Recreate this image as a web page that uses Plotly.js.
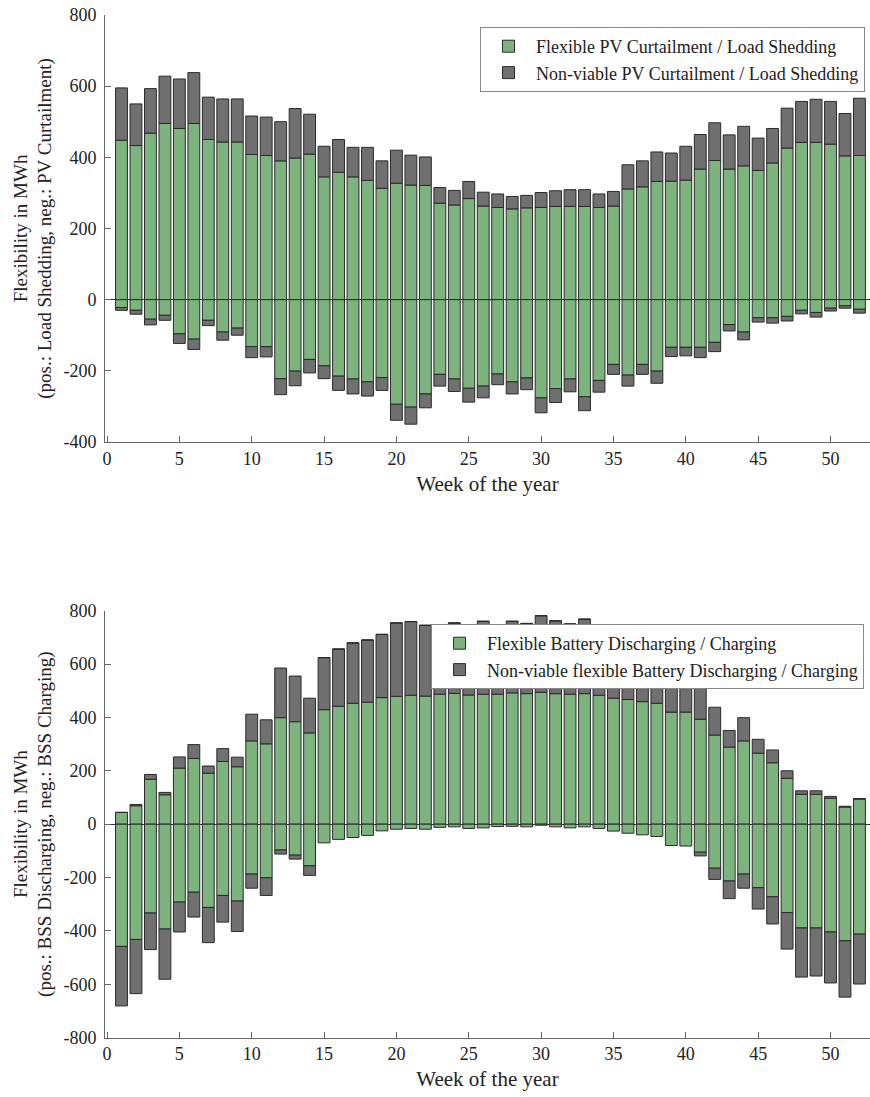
<!DOCTYPE html>
<html>
<head>
<meta charset="utf-8">
<script src="https://cdn.plot.ly/plotly-3.0.1.min.js"></script>
<style>html,body{margin:0;padding:0;background:#fff;}#chart{width:870px;height:1097px;}</style>
</head>
<body>
<div id="chart"></div>
<script>
const weeks = [1,2,3,4,5,6,7,8,9,10,11,12,13,14,15,16,17,18,19,20,21,22,23,24,25,26,27,28,29,30,31,32,33,34,35,36,37,38,39,40,41,42,43,44,45,46,47,48,49,50,51,52];

// Top chart: PV curtailment / load shedding (MWh)
const pvFlexPos = [448,433,468,495,481,495,450,443,443,408,405,390,398,409,345,358,345,335,313,327,322,321,271,266,284,263,259,255,258,259,262,262,262,259,263,311,317,332,333,336,367,391,367,376,363,384,426,442,442,437,404,405];
const pvNonPos  = [147,117,125,133,139,143,119,121,121,108,108,110,139,112,86,92,83,93,77,93,84,80,44,41,48,39,38,35,35,42,44,47,47,38,41,68,73,83,79,95,97,106,96,111,91,97,112,115,121,120,119,161];
const pvFlexNeg = [-22,-30,-55,-44,-96,-111,-58,-91,-80,-132,-132,-222,-201,-168,-186,-215,-223,-231,-219,-294,-302,-265,-210,-223,-249,-243,-209,-231,-220,-276,-250,-223,-273,-227,-182,-212,-182,-201,-134,-134,-134,-120,-70,-91,-51,-51,-47,-30,-36,-24,-17,-27];
const pvNonNeg  = [-8,-11,-16,-14,-27,-29,-15,-23,-20,-31,-29,-45,-41,-38,-36,-40,-42,-40,-36,-45,-48,-39,-33,-35,-39,-33,-30,-34,-33,-42,-39,-36,-39,-33,-28,-31,-28,-34,-26,-24,-29,-26,-18,-22,-12,-15,-13,-10,-13,-8,-7,-11];

// Bottom chart: battery discharging / charging (MWh)
const battFlexPos = [44,69,168,110,210,246,191,235,215,312,301,399,384,342,429,442,453,457,474,479,483,480,487,490,484,487,487,492,489,494,489,487,489,483,472,467,459,453,420,420,393,334,289,312,266,230,172,112,112,97,64,94];
const battNonPos  = [0,5,18,9,42,52,27,48,36,100,90,186,171,130,195,214,226,233,237,275,276,265,253,264,256,273,258,268,263,287,273,263,279,257,248,233,231,217,230,200,147,104,62,87,52,48,28,13,13,7,3,2];
const battFlexNeg = [-458,-432,-333,-393,-292,-255,-312,-267,-288,-187,-201,-97,-116,-156,-70,-57,-50,-42,-25,-19,-16,-19,-12,-10,-16,-14,-9,-8,-10,-4,-10,-14,-10,-16,-26,-34,-40,-46,-80,-82,-105,-165,-213,-187,-238,-272,-331,-389,-389,-404,-437,-412];
const battNonNeg  = [-223,-203,-137,-188,-112,-93,-132,-100,-114,-53,-66,-15,-15,-36,0,0,0,0,0,0,0,0,0,0,0,0,0,0,0,0,0,0,0,0,0,0,0,0,0,0,-14,-42,-66,-53,-80,-102,-137,-184,-180,-191,-211,-187];

// Labels
const pvFlexName = 'Flexible PV Curtailment / Load Shedding';
const pvNonName = 'Non-viable PV Curtailment / Load Shedding';
const battFlexName = 'Flexible Battery Discharging / Charging';
const battNonName = 'Non-viable flexible Battery Discharging / Charging';
const xTickVals = [0,5,10,15,20,25,30,35,40,45,50];
const yTopTickVals = [-400,-200,0,200,400,600,800];
const yTopTickText = ['-400','-200','0','200','400','600','800'];
const yBotTickVals = [-800,-600,-400,-200,0,200,400,600,800];
const yBotTickText = ['-800','-600','-400','-200','0','200','400','600','800'];
const xTitle = 'Week of the year';
const yTopTitle = 'Flexibility in MWh<br>(pos.: Load Shedding, neg.: PV Curtailment)';
const yBotTitle = 'Flexibility in MWh<br>(pos.: BSS Discharging, neg.: BSS Charging)';

const GREEN = '#7db47d';
const GRAY = '#707070';
const EDGE = '#2a2a2a';
const FONT = '"Liberation Serif", "DejaVu Serif", serif';
const TXT = '#222222';

function bar(y, name, color, xa, ya, leg, group, show) {
  return {
    type: 'bar', x: weeks, y: y, name: name, width: 0.82,
    marker: {color: color, line: {color: EDGE, width: 1}},
    xaxis: xa, yaxis: ya, legend: leg, legendgroup: group, showlegend: show,
    hoverinfo: 'x+y+name'
  };
}

const data = [
  bar(pvFlexPos, pvFlexName, GREEN, 'x', 'y', 'legend', 'pvf', true),
  bar(pvFlexNeg, pvFlexName, GREEN, 'x', 'y', 'legend', 'pvf', false),
  bar(pvNonPos, pvNonName, GRAY, 'x', 'y', 'legend', 'pvn', true),
  bar(pvNonNeg, pvNonName, GRAY, 'x', 'y', 'legend', 'pvn', false),
  bar(battFlexPos, battFlexName, GREEN, 'x2', 'y2', 'legend2', 'bf', true),
  bar(battFlexNeg, battFlexName, GREEN, 'x2', 'y2', 'legend2', 'bf', false),
  bar(battNonPos, battNonName, GRAY, 'x2', 'y2', 'legend2', 'bn', true),
  bar(battNonNeg, battNonName, GRAY, 'x2', 'y2', 'legend2', 'bn', false)
];

const AX = '#666666';
function xaxis(anchor) {
  return {
    anchor: anchor, range: [-0.14, 52.73], tickvals: xTickVals,
    ticks: 'inside', ticklen: 6, tickcolor: AX, showline: true, linecolor: AX, linewidth: 1,
    showgrid: false, zeroline: false, tickfont: {size: 18, color: TXT, family: FONT},
    title: {text: xTitle, font: {size: 21, color: TXT, family: FONT}, standoff: 8}
  };
}
function yaxis(anchor, domain, range, vals, text, title) {
  return {
    anchor: anchor, domain: domain, range: range, tickvals: vals, ticktext: text,
    ticks: 'inside', ticklen: 6, tickcolor: AX, showline: true, linecolor: AX, linewidth: 1,
    showgrid: false, zeroline: true, zerolinecolor: '#333333', zerolinewidth: 1,
    tickfont: {size: 18, color: TXT, family: FONT}, ticklabelstandoff: 4,
    title: {text: title, font: {size: 19, color: TXT, family: FONT}, standoff: 6}
  };
}

const legendStyle = {
  bgcolor: '#ffffff', bordercolor: '#888888', borderwidth: 1,
  font: {size: 18, color: TXT, family: FONT}, xanchor: 'right', yanchor: 'top',
  itemwidth: 45, tracegroupgap: 0, itemclick: false
};

const layout = {
  width: 870, height: 1097,
  margin: {l: 105, r: 0, t: 10, b: 10},
  paper_bgcolor: '#ffffff', plot_bgcolor: '#ffffff',
  font: {family: FONT, color: TXT},
  barmode: 'relative', bargap: 0.18,
  xaxis: xaxis('y'),
  yaxis: yaxis('x', [0.5989, 0.9954], [-400, 800], yTopTickVals, yTopTickText, yTopTitle),
  xaxis2: xaxis('y2'),
  yaxis2: yaxis('x2', [0.0458, 0.4423], [-800, 800], yBotTickVals, yBotTickText, yBotTitle),
  legend: Object.assign({x: 0.9935, y: 0.9842}, legendStyle),
  legend2: Object.assign({x: 0.9922, y: 0.4299}, legendStyle),
  showlegend: true
};

Plotly.newPlot('chart', data, layout, {displayModeBar: false});
</script>
</body>
</html>
